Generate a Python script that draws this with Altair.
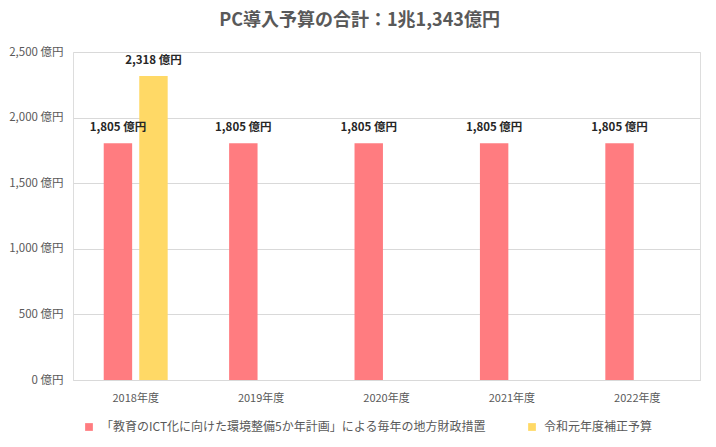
import altair as alt
import pandas as pd

years = ["2018年度", "2019年度", "2020年度", "2021年度", "2022年度"]
series_a = "「教育のICT化に向けた環境整備5か年計画」による毎年の地方財政措置"
series_b = "令和元年度補正予算"
values_a = [1805, 1805, 1805, 1805, 1805]
values_b = [2318]

rows = [{"year": y, "series": series_a, "value": v} for y, v in zip(years, values_a)]
rows += [{"year": years[0], "series": series_b, "value": v} for v in values_b]
df = pd.DataFrame(rows)
df["label"] = df["value"].map(lambda v: f"{v:,} 億円")

FONT = "Noto Sans CJK JP"
colors = ["#FF7C80", "#FFD966"]

x = alt.X("year:N", sort=years, title=None,
          scale=alt.Scale(paddingInner=0.49, paddingOuter=0.245),
          axis=alt.Axis(labelAngle=0, ticks=False, domainColor="#D9D9D9",
                        labelColor="#595959", labelFont=FONT, labelFontSize=11,
                        labelPadding=12))
xo = alt.XOffset("series:N", sort=[series_a, series_b],
                 scale=alt.Scale(paddingInner=0.2, paddingOuter=0))
y = alt.Y("value:Q", title=None,
          scale=alt.Scale(domain=[0, 2500]),
          axis=alt.Axis(values=[0, 500, 1000, 1500, 2000, 2500],
                        labelExpr="format(datum.value, ',') + ' 億円'",
                        domain=False, ticks=False, gridColor="#D9D9D9",
                        labelColor="#595959", labelFont=FONT, labelFontSize=11.5,
                        labelPadding=10))

bars = alt.Chart(df).mark_bar().encode(
    x=x, xOffset=xo, y=y,
    color=alt.Color("series:N", sort=[series_a, series_b],
                    scale=alt.Scale(domain=[series_a, series_b], range=colors),
                    legend=alt.Legend(title=None, orient="none", direction="horizontal",
                                      legendX=10, legendY=369,
                                      labelLimit=600, labelFont=FONT, labelFontSize=12,
                                      labelColor="#595959", symbolType="square",
                                      symbolSize=60, symbolStrokeWidth=0,
                                      columnPadding=40, labelOffset=6)),
)

text = alt.Chart(df).mark_text(dy=-10, fontWeight="bold", font=FONT, fontSize=11.5,
                               color="#262626", baseline="bottom").encode(
    x=x, xOffset=xo, y=y, text="label:N")

chart = alt.layer(bars, text).properties(
    width=627, height=328,
    title=alt.TitleParams("PC導入予算の合計：1兆1,343億円", font=FONT, fontSize=18,
                          fontWeight="bold", color="#595959", anchor="middle",
                          offset=16, dx=-27),
    autosize=alt.AutoSizeParams(type="none"),
    padding={"left": 73, "top": 52, "right": 16, "bottom": 67},
).configure_view(stroke=None).configure(background="white")

chart.save("out.html", embed_options={"renderer": "svg", "actions": False})
